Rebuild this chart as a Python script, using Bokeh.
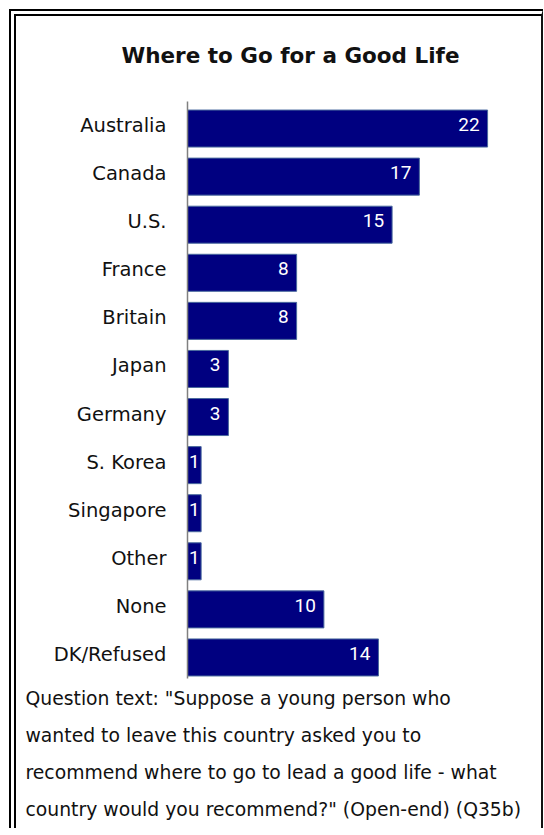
from bokeh.plotting import figure
from bokeh.models import FactorRange, Range1d, Title, ColumnDataSource
from bokeh.transform import dodge
from bokeh.core.properties import value
from bokeh.embed import file_html
from bokeh.resources import INLINE

title_text = "Where to Go for a Good Life"
categories = ["Australia", "Canada", "U.S.", "France", "Britain", "Japan",
              "Germany", "S. Korea", "Singapore", "Other", "None", "DK/Refused"]
values = [22, 17, 15, 8, 8, 3, 3, 1, 1, 1, 10, 14]
footer_lines = [
    'Question text: "Suppose a young person who',
    'wanted to leave this country asked you to',
    'recommend where to go to lead a good life - what',
    'country would you recommend?" (Open-end) (Q35b)',
]

# page geometry: margin + double border on the host element (border-box)
M, BL, BR = 9, 7, 2
OX = OY = M + BL            # canvas origin on the page
W = 543 - M                 # host width incl. borders
H = 835 - OY
FL, FR, FT, FB = 187, 528, 101, 678   # frame edges on the page

p = figure(width=W, height=H, output_backend="svg", toolbar_location=None,
           y_range=FactorRange(factors=list(reversed(categories))),
           x_range=Range1d(0, 25), x_axis_location=None,
           min_border_left=FL - OX, min_border_right=W - (FR - OX),
           min_border_top=FT - OY, min_border_bottom=H - (FB - OY))
p.styles = {"margin-left": f"{M}px", "margin-top": f"{M}px",
            "border-left": f"{BL}px double #000000",
            "border-top": f"{BL}px double #000000",
            "border-right": f"{BR}px solid #111111",
            "overflow": "hidden"}
p.outline_line_color = None
p.xgrid.visible = False
p.ygrid.visible = False
p.background_fill_color = "white"
p.border_fill_color = "white"

yax = p.yaxis[0]
yax.axis_line_color = "#808080"
yax.axis_line_width = 1.5
yax.major_tick_line_color = None
yax.minor_tick_line_color = None
yax.major_label_standoff = 15
yax.major_label_text_font = "DejaVu Sans"
yax.major_label_text_font_size = "19.5px"
yax.major_label_text_color = "#111111"

src = ColumnDataSource(dict(cat=categories, val=values))
p.hbar(y=dodge("cat", -0.0625, range=p.y_range), left=0, right="val",
       height=0.77, source=src,
       fill_color="#000080", line_color="#4a6a9e", line_width=1)

big = ColumnDataSource(dict(cat=[c for c, v in zip(categories, values) if v >= 2],
                            val=[v for v in values if v >= 2],
                            lab=[str(v) for v in values if v >= 2]))
small = ColumnDataSource(dict(cat=[c for c, v in zip(categories, values) if v < 2],
                              val=[v / 2 for v in values if v < 2],
                              lab=[str(v) for v in values if v < 2]))
p.text(x="val", y="cat", text="lab", source=big, text_align="right",
       text_baseline="middle", x_offset=-8, y_offset=-1,
       text_font=value("Roboto"), text_font_size="19px", text_color="white")
p.text(x="val", y="cat", text="lab", source=small, text_align="center",
       text_baseline="middle", y_offset=-1,
       text_font=value("Roboto"), text_font_size="19px", text_color="white")

# spacer between frame and title, then the title itself
p.add_layout(Title(text=" ", text_font_size="10px", standoff=16), "above")
p.add_layout(Title(text=title_text, text_font="DejaVu Sans", text_font_size="21.5px",
                   text_font_style="bold", text_color="#111111",
                   align="left", offset=121 - FL, standoff=10), "above")

# footer lines, stacked below the frame
for line in footer_lines:
    p.add_layout(Title(text=line, text_font="DejaVu Sans", text_font_size="18.8px",
                       text_font_style="normal", text_color="#111111",
                       align="left", offset=25 - FL, standoff=13.7), "below")

open("out.html", "w").write(file_html(p, INLINE))
